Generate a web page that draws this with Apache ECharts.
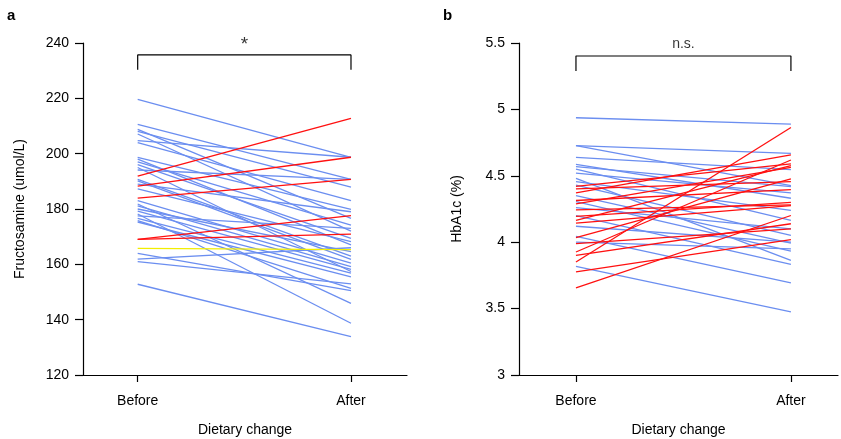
<!DOCTYPE html>
<html><head><meta charset="utf-8">
<script src="https://cdn.jsdelivr.net/npm/echarts@6/dist/echarts.min.js"></script>
<style>html,body{margin:0;padding:0;background:#fff}#c{width:841px;height:439px}</style>
</head><body><div id="c"></div>
<script>
// ---- data ----
const categories = ['Before', 'After'];
// Panel a: Fructosamine (umol/L)
const aBlueBefore = [219.6,210.6,208.8,208.1,207.1,204.7,204.0,198.7,198.0,197.0,196.0,195.0,194.1,190.7,190.2,189.0,187.3,183.0,181.8,181.1,180.0,179.2,178.2,177.5,176.6,175.8,175.3,164.0,161.9,161.0,152.8];
const aBlueAfter  = [198.7,190.7,176.6,187.9,172.0,198.7,183.0,179.9,167.0,174.2,169.4,157.4,190.7,163.0,161.8,179.0,168.2,160.4,145.9,159.2,164.6,158.2,138.7,173.0,156.8,151.3,155.5,150.5,166.0,152.9,133.9];
const aRedBefore = [191.9,188.3,183.9,169.0,169.0];
const aRedAfter  = [212.8,198.7,190.7,177.6,170.9];
const aYellowBefore = [165.8];
const aYellowAfter  = [165.3];
// Panel b: HbA1c (%)
const bBlueBefore = [4.937,4.727,4.727,4.639,4.586,4.569,4.551,4.520,4.481,4.456,4.430,4.350,4.306,4.260,4.200,4.120,4.044,4.001,3.818];
const bBlueAfter  = [4.889,4.669,4.426,4.547,4.331,4.419,4.164,4.371,3.863,4.239,4.051,3.993,3.933,4.100,3.833,4.000,3.693,3.950,3.475];
const bRedBefore = [3.656,3.776,3.851,3.901,3.926,3.989,4.034,4.143,4.164,4.194,4.244,4.289,4.314,4.371,4.401,4.421];
const bRedAfter  = [4.201,4.019,4.864,4.139,4.619,4.101,4.477,4.276,4.577,4.300,4.281,4.564,4.396,4.657,4.456,4.590];
// axis ticks
const aTicks = [120,140,160,180,200,220,240];
const bTicks = [3,3.5,4,4.5,5,5.5];
// significance brackets
const aBracket = {top: 235.7, foot: 230.3, text: '*'};
const bBracket = {top: 5.402, foot: 5.29, text: 'n.s.'};

// ---- styling ----
const BLUE = '#6b8ef0', RED = '#ff1010', YELLOW = '#f2ee00';
const FONT = 'Liberation Sans, Arial, sans-serif';

function pairSeries(before, after, color, axisIdx) {
  return before.map((b, i) => ({
    type: 'line', xAxisIndex: axisIdx, yAxisIndex: axisIdx,
    data: [[0, b], [1, after[i]]],
    symbol: 'none', silent: true, animation: false,
    lineStyle: {color: color, width: 1.3},
  }));
}
function bracketSeries(br, axisIdx, fs, dist) {
  return [{
    type: 'line', xAxisIndex: axisIdx, yAxisIndex: axisIdx,
    data: [[0, br.foot], [0, br.top], [1, br.top], [1, br.foot]],
    symbol: 'none', animation: false, silent: true,
    lineStyle: {color: '#000', width: 1.2}
  }, {
    type: 'scatter', xAxisIndex: axisIdx, yAxisIndex: axisIdx,
    data: [[0.5, br.top]], symbolSize: 0, animation: false, silent: true,
    label: {show: true, position: 'top', distance: dist, formatter: br.text,
            color: '#000', fontSize: fs, fontFamily: FONT}
  }];
}
function xAxis(gridIndex, min, max) {
  return {
    type: 'value', gridIndex, min, max,
    name: 'Dietary change', nameLocation: 'middle', nameGap: 48,
    nameTextStyle: {color: '#000', fontSize: 14, fontFamily: FONT},
    axisLine: {show: true, onZero: false, lineStyle: {color: '#000', width: 1.2}},
    axisTick: {show: true, customValues: [0, 1], length: 7, lineStyle: {color: '#000', width: 1.2}},
    axisLabel: {customValues: [0, 1], formatter: v => categories[Math.round(v)],
                color: '#000', fontSize: 14, fontFamily: FONT, margin: 19},
    splitLine: {show: false}
  };
}
function yAxis(gridIndex, ticks, interval, name, gap) {
  return {
    type: 'value', gridIndex, min: ticks[0], max: ticks[ticks.length - 1], interval,
    name, nameLocation: 'middle', nameGap: gap,
    nameTextStyle: {color: '#000', fontSize: 14, fontFamily: FONT},
    axisLine: {show: true, onZero: false, lineStyle: {color: '#000', width: 1.2}},
    axisTick: {show: true, length: 8, lineStyle: {color: '#000', width: 1.2}},
    axisLabel: {color: '#000', fontSize: 14, fontFamily: FONT, margin: 14},
    splitLine: {show: false}
  };
}

const series = [].concat(
  pairSeries(aBlueBefore, aBlueAfter, BLUE, 0),
  pairSeries(aRedBefore, aRedAfter, RED, 0),
  pairSeries(aYellowBefore, aYellowAfter, YELLOW, 0),
  bracketSeries(aBracket, 0, 19, 1),
  pairSeries(bBlueBefore, bBlueAfter, BLUE, 1),
  pairSeries(bRedBefore, bRedAfter, RED, 1),
  bracketSeries(bBracket, 1, 14, 5)
);

const chart = echarts.init(document.getElementById('c'), null, {renderer: 'canvas'});
chart.setOption({
  backgroundColor: '#fff',
  animation: false,
  title: [
    {text: 'a', left: 2, top: 3, textStyle: {fontSize: 15, fontWeight: 'bold', color: '#000', fontFamily: FONT}},
    {text: 'b', left: 438, top: 3, textStyle: {fontSize: 15, fontWeight: 'bold', color: '#000', fontFamily: FONT}}
  ],
  grid: [
    {left: 83, top: 43, width: 324, height: 332, outerBoundsMode: 'none', containLabel: false},
    {left: 519, top: 43, width: 319, height: 332, outerBoundsMode: 'none', containLabel: false}
  ],
  xAxis: [xAxis(0, -0.2564, 1.2626), xAxis(1, -0.265, 1.219)],
  yAxis: [
    yAxis(0, aTicks, 20, 'Fructosamine (umol/L)', 56),
    yAxis(1, bTicks, 0.5, 'HbA1c (%)', 55)
  ],
  series
});
</script></body></html>
